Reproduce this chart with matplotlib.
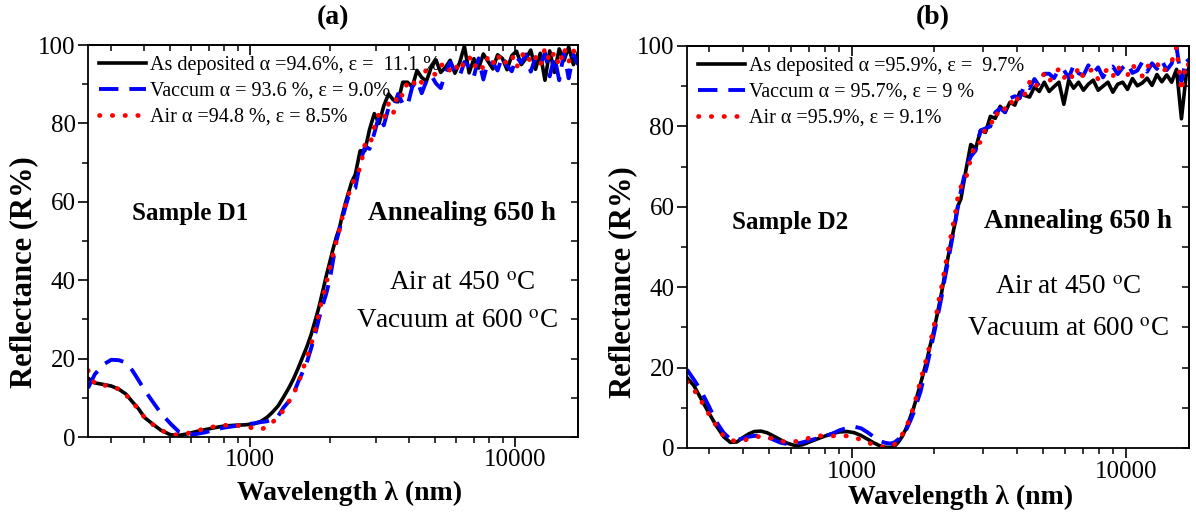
import numpy as np
import matplotlib
matplotlib.use("Agg")
import matplotlib.pyplot as plt
from matplotlib.ticker import FixedLocator, NullFormatter, FuncFormatter, LogLocator, MultipleLocator

plt.rcParams["font.family"] = ["Liberation Serif", "DejaVu Serif"]
plt.rcParams["mathtext.fontset"] = "stix"

# ---- wavelength grids (nm) ----
wl_a_low = [245, 260, 280, 300, 320, 340, 360, 380, 400, 430, 460, 500, 540, 580, 620,
            680, 740, 800, 880, 960, 1040, 1100, 1160, 1220, 1280, 1340, 1400, 1460, 1520,
            1580, 1640, 1700, 1760, 1820, 1880, 1940, 2000, 2060, 2120, 2180, 2240, 2300,
            2360, 2420]
wl_b_low = [250, 265, 280, 300, 320, 340, 360, 380, 400, 420, 440, 465, 490, 520, 550,
            580, 620, 660, 700, 750, 800, 850, 900, 960, 1020, 1080, 1140, 1200, 1260,
            1320, 1380, 1430, 1480, 1530, 1580, 1630, 1680, 1730, 1780, 1830, 1880, 1930,
            1980, 2030, 2080, 2130, 2180, 2230, 2280, 2330, 2380, 2430]
wl_high = [2500, 2605, 2715, 2829, 2948, 3072, 3201, 3336, 3476, 3622,
           3774, 3933, 4098, 4271, 4450, 4637, 4832, 5035, 5247, 5468,
           5698, 5937, 6187, 6447, 6718, 7000, 7295, 7601, 7921, 8254,
           8601, 8963, 9340, 9732, 10141, 10568, 11012, 11475, 11957, 12460,
           12984, 13530, 14099, 14692, 15310, 15953, 16624, 17300]

# ---- sample D1 reflectance (%) ----
dep_a_low = [15, 13.8, 13.4, 13, 12.2, 11, 9, 7.2, 5, 3.3, 1.8, 0.6, 0.4, 0.8, 1.3, 1.9,
             2.4, 2.8, 3.0, 3.1, 3.4, 4.0, 5.0, 6.4, 8.0, 10.2, 12.4, 14.8, 17.5, 20.3, 23,
             26, 29.5, 33, 37, 41, 44.5, 48, 51, 53.5, 57, 60, 62.5, 65]
vac_a_low = [12.5, 16, 18.5, 19.7, 19.6, 19, 17, 14.5, 12, 9, 6.2, 3.5, 1.3, 0.8, 0.7,
             1.2, 1.9, 2.4, 2.8, 3.2, 3.5, 3.8, 4.0, 4.5, 5.4, 7.5, 9, 11, 14, 16.5, 19,
             22.5, 26, 30, 33.5, 36.5, 40, 45, 50, 53, 56, 59, 61.5, 63]
air_a_low = [17, 13.5, 13.2, 13, 12.2, 10.8, 9, 7, 5, 3.2, 1.8, 0.7, 0.5, 0.9, 1.4, 2.2,
             2.7, 3.0, 3.0, 2.7, 2.2, 1.9, 2.6, 3.8, 5.3, 6.8, 8.9, 11, 13.5, 17, 20.3,
             23.5, 27, 31.5, 35.5, 39, 43, 46.5, 50, 53, 56.5, 59.5, 62, 64]
dep_a_high = [67, 73, 73, 78.5, 82.5, 80, 84.5, 87.5, 86, 85.5,
              90.5, 90.5, 89.3, 93.5, 91.7, 90.8, 94.3, 96.2, 93, 94.3,
              96.1, 92.8, 95.5, 99.7, 92.9, 96.5, 94.1, 97.7, 95.8, 93.9,
              97.5, 96.6, 93.7, 97.3, 98.4, 95, 96.6, 98.7, 93.8, 97.9,
              91, 98.5, 93, 99, 96, 99.5, 95, 98]
vac_a_high = [63.5, 70, 74, 73.5, 77.5, 82, 79.5, 84, 84, 87.5,
              85, 84.5, 89.3, 91, 87.7, 90.8, 92.3, 90.2, 89, 92.8,
              95.6, 93.3, 92, 95.7, 94.4, 92, 96.6, 91.2, 95.8, 95.4,
              93.5, 97.1, 94.7, 93.3, 96.9, 95.5, 97.6, 93.2, 96.8, 94.9,
              98, 92, 97, 91, 98, 91.5, 97.5, 95]
air_a_high = [66.5, 68.5, 74.5, 74, 79, 82.5, 81, 85, 82.5, 88,
              87, 90.5, 89.5, 91.7, 90.4, 94, 93, 92.4, 94.7, 95.5,
              93.3, 95, 93.2, 95.9, 97.1, 94.2, 95.8, 93.9, 97, 95.1,
              97.7, 94.9, 95.9, 97.5, 94.2, 97.2, 98.3, 95.3, 96.9, 94.6,
              99.2, 95.7, 98.2, 94.7, 99.2, 95.7, 98.7, 95.7]

# ---- sample D2 reflectance (%) ----
dep_b_low = [17.5, 15.5, 12.5, 8.8, 5.5, 2.8, 1.4, 1.5, 2.6, 3.5,
             4.1, 4.2, 3.8, 2.9, 2.0, 1.2, 0.6, 0.8, 1.5, 2.3,
             3.0, 3.6, 4.0, 4.1, 3.8, 3.1, 2.2, 1.3, 0.6, 0.2,
             0.1, 0.4, 1.5, 3.0, 5, 7.5, 10, 13, 16, 19,
             22, 25.5, 28.5, 32, 35.5, 39, 43, 46.5, 50, 53, 56, 60]
vac_b_low = [19.5, 17, 14.5, 10.5, 6.5, 3.8, 2.2, 2.0, 2.4, 2.8,
             3.0, 3.1, 2.8, 2.0, 1.3, 1.0, 1.0, 1.4, 1.9, 2.4,
             3.0, 3.6, 4.4, 5.0, 5.3, 4.9, 3.9, 2.8, 1.8, 1.3,
             1.1, 1.4, 2.2, 3.3, 4.6, 6.6, 8.8, 11.5, 14, 17.5,
             20.5, 24, 27.5, 31, 34.5, 38, 42, 45.5, 49, 52.5, 56, 59.5]
air_b_low = [16.5, 14.5, 12, 8.5, 5.5, 3.0, 2.0, 1.6, 1.8, 2.3,
             2.7, 2.9, 2.7, 2.2, 1.7, 1.5, 1.6, 2.0, 2.5, 3.0,
             3.1, 3.0, 3.0, 3.0, 2.7, 2.0, 1.4, 0.8, 0.3, 0.2,
             0.4, 0.9, 2.0, 3.5, 5.2, 7.6, 10.3, 13.5, 16.8, 19.8,
             22.8, 26, 29.5, 33, 37, 40.5, 44.5, 48, 51.5, 55, 58, 62]
dep_b_high = [62, 69, 75.5, 74.5, 79, 78.5, 82.5, 82, 85, 83.5,
              86, 85.3, 88.5, 87.7, 87.3, 89.8, 88.7, 91, 88.7, 89.9,
              91, 85.5, 91.5, 89.5, 91, 89, 90.5, 91.5, 89, 90,
              91, 88.5, 90.5, 91, 89.2, 91.9, 90.1, 90.8, 92, 90.2,
              92.9, 91.1, 92.8, 91, 94.2, 81.9, 93.1, 95.8]
vac_b_high = [64, 69.5, 72.5, 74, 79, 79.5, 80, 83.5, 84.5, 83.5,
              87, 87.5, 87, 90.5, 89.5, 91.8, 90, 93.1, 93.1, 92,
              94.3, 94, 92.1, 95.2, 93.2, 92.7, 95.2, 93.2, 94.7, 92.2,
              94.3, 94.9, 93, 94.6, 95.7, 93.3, 93.9, 96, 93.6, 95.7,
              94.3, 96.4, 94, 95.6, 99.7, 91.3, 96.9, 95.5]
air_b_high = [65, 67, 72, 76, 76, 79.5, 80, 83.5, 82.5, 84.5,
              86.5, 85, 88.5, 88, 91, 89.3, 91.5, 93.1, 91.1, 93,
              94.3, 92, 93.6, 91.7, 94.7, 92.2, 93.7, 94.2, 91.7, 93.2,
              94.3, 92.4, 95, 93.1, 92.7, 95.3, 93.9, 92.5, 95.1, 94.7,
              95.8, 93.4, 94.5, 96.1, 99.7, 88.8, 95.9, 94.5]

labels_a = ["As deposited \u03b1 =94.6%, \u03b5 =  11.1 %",
            "Vaccum \u03b1 = 93.6 %, \u03b5 = 9.0%",
            "Air \u03b1 =94.8 %, \u03b5 = 8.5%"]
labels_b = ["As deposited \u03b1 =95.9%, \u03b5 =  9.7%",
            "Vaccum \u03b1 = 95.7%, \u03b5 = 9 %",
            "Air \u03b1 =95.9%, \u03b5 = 9.1%"]

W, H = 1196, 515


def fx(px):
    return px / W


def fy(py):
    return 1 - py / H


# Style one panel: log x axis, outward ticks bottom/left, inward ticks top/right.
def style_axes(ax, xlim):
    ax.set_xscale("log")
    ax.set_xlim(*xlim)
    ax.set_ylim(0, 100)
    ax.xaxis.set_major_locator(FixedLocator([1000, 10000]))
    ax.xaxis.set_major_formatter(FuncFormatter(lambda v, _: f"{v:.0f}"))
    ax.xaxis.set_minor_locator(LogLocator(base=10, subs=np.arange(2, 10)))
    ax.xaxis.set_minor_formatter(NullFormatter())
    ax.yaxis.set_major_locator(MultipleLocator(20))
    ax.yaxis.set_minor_locator(MultipleLocator(10))
    ax.tick_params(which="major", direction="out", length=7, width=1.2, labelsize=18, pad=2)
    ax.tick_params(which="minor", direction="out", length=4, width=1.1)
    for s in ax.spines.values():
        s.set_linewidth(1.3)
    top = ax.secondary_xaxis("top")
    top.xaxis.set_major_locator(FixedLocator([1000, 10000]))
    top.xaxis.set_minor_locator(LogLocator(base=10, subs=np.arange(2, 10)))
    top.tick_params(which="both", direction="in", labeltop=False)
    top.tick_params(which="major", length=7, width=1.2)
    top.tick_params(which="minor", length=4, width=1.1)
    top.spines["top"].set_linewidth(1.3)
    right = ax.secondary_yaxis("right")
    right.yaxis.set_major_locator(MultipleLocator(20))
    right.yaxis.set_minor_locator(MultipleLocator(10))
    right.tick_params(which="both", direction="in", labelright=False, length=5, width=1.1)
    right.spines["right"].set_linewidth(1.3)


# Draw the three reflectance curves of one sample.
def draw_panel(ax, wl_low, dep, vac, air, labels):
    wl = wl_low + wl_high
    h1, = ax.plot(wl, dep, color="black", lw=2.6, solid_joinstyle="round")
    h2, = ax.plot(wl, vac, color="#0000ff", lw=2.8, linestyle=(0, (5, 2.8)))
    h3, = ax.plot(wl, air, color="#ff0000", lw=3.4, linestyle=(0, (0.1, 2.6)),
                  dash_capstyle="round")
    ax.legend([h1, h2, h3], labels, loc="upper left", frameon=False, fontsize=14.5,
              handlelength=2.35, handletextpad=0.2, labelspacing=0.33,
              borderaxespad=0.35, borderpad=0.2)


def main():
    fig = plt.figure(figsize=(W / 100, H / 100), dpi=100)
    axa = fig.add_axes([fx(88), fy(437), fx(578 - 88), (437 - 45) / H])
    axb = fig.add_axes([fx(687), fy(448), fx(1189 - 687), (448 - 46) / H])

    style_axes(axa, (245, 17300))
    style_axes(axb, (250, 17000))
    draw_panel(axa, wl_a_low, dep_a_low + dep_a_high, vac_a_low + vac_a_high,
               air_a_low + air_a_high, labels_a)
    draw_panel(axb, wl_b_low, dep_b_low + dep_b_high, vac_b_low + vac_b_high,
               air_b_low + air_b_high, labels_b)

    # titles and axis labels
    fig.text(fx(333), fy(18), "(a)", ha="center", va="center", fontsize=20, fontweight="bold")
    fig.text(fx(933), fy(18), "(b)", ha="center", va="center", fontsize=20, fontweight="bold")
    for x, y in [(350, 493), (961, 497)]:
        fig.text(fx(x), fy(y), "Wavelength \u03bb (nm)", ha="center", va="center",
                 fontsize=20, fontweight="bold")
    for x, y in [(24, 272), (623, 282)]:
        fig.text(fx(x), fy(y), "Reflectance (R%)", ha="center", va="center",
                 fontsize=22, fontweight="bold", rotation=90)

    # annotations
    notes = [((190, 213), (462, 213), (462, 283), (457, 322), "Sample D1"),
             ((790, 222), (1078, 222), (1068, 287), (1068, 330), "Sample D2")]
    for s, a, t1, t2, name in notes:
        fig.text(fx(s[0]), fy(s[1]), name, ha="center", va="center", fontsize=18, fontweight="bold")
        fig.text(fx(a[0]), fy(a[1]), "Annealing 650 h", ha="center", va="center",
                 fontsize=19.5, fontweight="bold")
        fig.text(fx(t1[0]), fy(t1[1]), r"Air at 450 $^{\rm o}$C", ha="center", va="center", fontsize=19.5)
        fig.text(fx(t2[0]), fy(t2[1]), r"Vacuum at 600 $^{\rm o}$C", ha="center", va="center", fontsize=19.5)

    fig.savefig("out.png", dpi=100)


if __name__ == "__main__":
    main()
